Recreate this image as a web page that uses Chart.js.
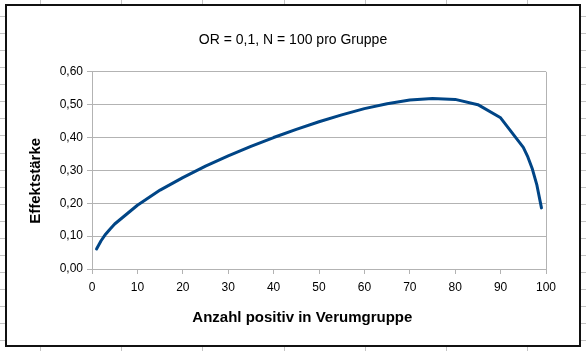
<!DOCTYPE html>
<html><head><meta charset="utf-8">
<script src="https://cdn.jsdelivr.net/npm/chart.js@4/dist/chart.umd.min.js"></script>
<style>
html,body{margin:0;padding:0;background:#fff;overflow:hidden;}
#bg{position:absolute;left:0;top:0;}
#frame{position:absolute;left:5px;top:4px;width:576px;height:343px;box-sizing:border-box;border:2px solid #111;background:#fff;}
#c{position:absolute;left:0;top:0;}
</style></head><body>
<canvas id="bg" width="586" height="351"></canvas>
<div id="frame"></div>
<canvas id="c" width="586" height="351"></canvas>
<script>
// Anzahl positiv in Verumgruppe
const categories = [1, 2, 3, 4, 5, 10, 15, 20, 25, 30, 35, 40, 45, 50, 55, 60, 65, 70, 75, 80, 85, 90, 95, 96, 97, 98, 99];
// Effektstärke
const effectValues = [0.061, 0.086, 0.106, 0.122, 0.137, 0.194, 0.240, 0.278, 0.313, 0.344, 0.373, 0.400, 0.425, 0.448, 0.469, 0.488, 0.503, 0.514, 0.519, 0.516, 0.500, 0.460, 0.370, 0.341, 0.304, 0.255, 0.186];
const xTickValues = [0, 10, 20, 30, 40, 50, 60, 70, 80, 90, 100];
const yTickValues = [0, 0.1, 0.2, 0.3, 0.4, 0.5, 0.6];

// spreadsheet background grid (decoration)
(function(){
  const bg = document.getElementById('bg').getContext('2d');
  bg.strokeStyle = '#c4c4c4';
  bg.lineWidth = 1;
  for (let k = 0; k < 21; k++) {
    const y = Math.round(16 + 17.07 * k) + 0.5;
    bg.beginPath(); bg.moveTo(0, y); bg.lineTo(586, y); bg.stroke();
  }
  for (let k = 0; k < 8; k++) {
    const x = Math.round(40 + 81.17 * k) + 0.5;
    bg.beginPath(); bg.moveTo(x, 0); bg.lineTo(x, 351); bg.stroke();
  }
})();

const GRID = '#b3b3b3';
const FONT = '"Liberation Sans", Arial, sans-serif';

new Chart(document.getElementById('c'), {
  type: 'scatter',
  data: {
    datasets: [{
      data: categories.map((x, i) => ({ x: x, y: effectValues[i] })),
      showLine: true,
      borderColor: '#004586',
      backgroundColor: '#004586',
      borderWidth: 3,
      pointRadius: 0,
      tension: 0,
      borderCapStyle: 'round',
      borderJoinStyle: 'round'
    }]
  },
  options: {
    responsive: false,
    animation: false,
    layout: { padding: { left: 40, right: 40, top: 0, bottom: 0 } },
    plugins: {
      legend: { display: false },
      tooltip: { enabled: false },
      title: {
        display: true,
        text: 'OR = 0,1, N = 100 pro Gruppe',
        color: '#000',
        font: { family: FONT, size: 14, weight: 'normal', lineHeight: 1.2 },
        padding: { top: 32, bottom: 23 }
      }
    },
    scales: {
      x: {
        type: 'linear',
        min: 0, max: 100,
        afterBuildTicks: s => { s.ticks = xTickValues.map(v => ({ value: v })); },
        afterFit: s => { s.height = 82; },
        ticks: { color: '#000', font: { family: FONT, size: 12 }, padding: 6, maxRotation: 0, autoSkip: false },
        grid: {
          color: c => (c.tick && c.tick.value === 100) ? GRID : 'rgba(0,0,0,0)',
          tickColor: GRID, tickLength: 5, lineWidth: 1, drawOnChartArea: true
        },
        border: { color: GRID, width: 1 },
        title: {
          display: true, text: 'Anzahl positiv in Verumgruppe        ', color: '#000',
          font: { family: FONT, size: 15, weight: 'bold', lineHeight: 1.2 },
          padding: { top: 0, bottom: 24 }
        }
      },
      y: {
        min: 0, max: 0.6,
        afterBuildTicks: s => { s.ticks = yTickValues.map(v => ({ value: v })); },
        afterFit: s => { s.width = 52; },
        ticks: { color: '#000', font: { family: FONT, size: 12 }, padding: 4,
          callback: v => Number(v).toFixed(2).replace('.', ',') },
        grid: { color: GRID, tickColor: GRID, tickLength: 5, lineWidth: 1 },
        border: { color: GRID, width: 1 },
        title: {
          display: true, text: 'Effektstärke     ', color: '#000',
          font: { family: FONT, size: 15, weight: 'bold', lineHeight: 1.2 },
          padding: { top: -13, bottom: 0 }
        }
      }
    }
  }
});
</script>
</body></html>
